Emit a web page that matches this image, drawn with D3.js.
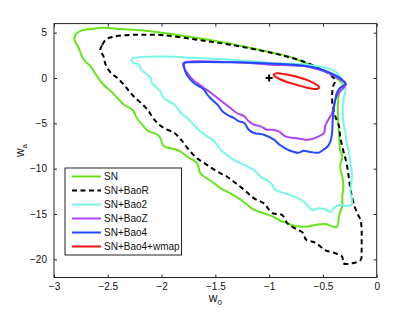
<!DOCTYPE html>
<html>
<head>
<meta charset="utf-8">
<script src="https://cdn.jsdelivr.net/npm/d3@7"></script>
<style>
  body { margin: 0; background: #fff; }
  svg text { font-family: "Liberation Sans", Arial, sans-serif; }
</style>
</head>
<body>
<svg id="chart" width="415" height="313"></svg>
<script>
// contours, [w0, wa]
var contourSN = [[-2.81,4.22],[-2.80,4.78],[-2.74,5.26],[-2.66,5.40],[-2.54,5.55],[-2.38,5.40],[-2.19,5.26],
  [-1.98,4.96],[-1.67,4.41],[-1.36,3.78],[-0.96,2.76],[-0.82,2.39],[-0.66,1.65],[-0.51,0.92],[-0.40,0.19],
  [-0.34,-0.36],[-0.31,-0.74],[-0.34,-1.10],[-0.35,-1.65],[-0.36,-2.76],[-0.36,-4.22],[-0.35,-6.07],
  [-0.34,-7.94],[-0.32,-8.68],[-0.34,-9.78],[-0.32,-10.89],[-0.31,-11.99],[-0.32,-13.09],[-0.32,-14.20],
  [-0.34,-14.75],[-0.35,-15.30],[-0.37,-16.40],[-0.39,-16.47],[-0.48,-16.10],[-0.57,-16.21],[-0.66,-16.40],
  [-0.76,-16.32],[-0.83,-16.03],[-0.91,-15.66],[-0.96,-15.30],[-1.05,-14.92],[-1.14,-14.55],[-1.20,-14.00],
  [-1.26,-13.45],[-1.36,-12.72],[-1.45,-12.17],[-1.51,-11.61],[-1.58,-11.06],[-1.64,-10.51],[-1.65,-10.15],
  [-1.67,-9.41],[-1.76,-8.68],[-1.85,-7.94],[-1.98,-7.49],[-2.02,-6.43],[-2.07,-6.07],[-2.12,-5.88],
  [-2.18,-5.15],[-2.23,-4.41],[-2.27,-3.50],[-2.35,-2.94],[-2.41,-2.21],[-2.47,-1.47],[-2.54,-0.74],
  [-2.60,0.19],[-2.66,1.29],[-2.71,1.84],[-2.74,2.39],[-2.77,3.31]];

var contourBaoR = [[-2.57,3.12],[-2.55,3.67],[-2.52,4.22],[-2.46,4.52],[-2.35,4.71],[-2.19,4.78],[-1.98,4.72],
  [-1.67,4.22],[-1.36,3.67],[-0.97,2.76],[-0.82,2.32],[-0.66,1.73],[-0.54,1.10],[-0.45,0.55],[-0.40,0.00],
  [-0.385,-0.36],[-0.40,-0.74],[-0.41,-1.29],[-0.415,-2.02],[-0.41,-3.12],[-0.385,-4.22],[-0.35,-5.33],
  [-0.34,-6.43],[-0.31,-8.05],[-0.28,-9.41],[-0.26,-10.89],[-0.245,-12.17],[-0.23,-13.09],[-0.21,-14.01],
  [-0.18,-14.92],[-0.15,-15.66],[-0.14,-16.77],[-0.14,-17.87],[-0.14,-18.97],[-0.15,-20.07],[-0.23,-20.44],
  [-0.31,-20.44],[-0.32,-19.71],[-0.385,-19.33],[-0.48,-18.97],[-0.57,-18.16],[-0.66,-17.79],[-0.68,-17.13],
  [-0.76,-16.58],[-0.83,-16.03],[-0.88,-15.11],[-0.97,-14.89],[-1.05,-13.82],[-1.14,-13.27],[-1.23,-12.35],
  [-1.31,-11.61],[-1.39,-10.89],[-1.48,-10.34],[-1.575,-9.60],[-1.67,-8.86],[-1.76,-7.72],[-1.82,-6.80],
  [-1.88,-6.07],[-1.98,-5.51],[-2.04,-4.96],[-2.09,-4.22],[-2.13,-3.49],[-2.19,-2.76],[-2.26,-2.02],
  [-2.30,-1.47],[-2.35,-0.74],[-2.41,0.00],[-2.47,0.55],[-2.52,1.47],[-2.54,2.39]];

var contourBao2 = [[-2.28,2.10],[-2.19,2.32],[-1.98,2.37],[-1.67,2.21],[-1.36,2.02],[-0.97,1.65],[-0.66,1.47],
  [-0.415,0.92],[-0.34,0.19],[-0.31,-0.55],[-0.29,-1.29],[-0.31,-2.39],[-0.316,-3.50],[-0.31,-4.96],
  [-0.29,-6.07],[-0.28,-7.17],[-0.26,-8.05],[-0.245,-9.41],[-0.23,-10.51],[-0.236,-11.61],[-0.245,-12.54],
  [-0.23,-13.46],[-0.236,-14.01],[-0.29,-14.12],[-0.35,-14.01],[-0.40,-14.37],[-0.43,-14.75],[-0.48,-14.48],
  [-0.54,-14.37],[-0.60,-14.56],[-0.62,-14.37],[-0.66,-13.82],[-0.76,-13.09],[-0.85,-12.72],[-0.94,-12.35],
  [-0.97,-11.80],[-1.02,-11.25],[-1.08,-10.89],[-1.14,-10.15],[-1.20,-9.78],[-1.26,-9.41],[-1.33,-9.04],
  [-1.39,-8.49],[-1.45,-7.94],[-1.51,-6.98],[-1.575,-6.43],[-1.64,-5.88],[-1.70,-5.15],[-1.76,-4.41],
  [-1.82,-3.86],[-1.88,-2.94],[-1.98,-2.21],[-2.01,-1.47],[-2.04,-1.10],[-2.09,-0.55],[-2.10,0.00],
  [-2.15,0.55],[-2.19,0.92],[-2.21,1.47],[-2.26,1.65]];

var contourBaoZ = [[-1.80,1.60],[-1.36,1.77],[-0.97,1.47],[-0.82,1.40],[-0.66,1.29],[-0.54,0.92],[-0.415,0.36],
  [-0.34,-0.19],[-0.30,-0.47],[-0.285,-0.74],[-0.31,-1.10],[-0.35,-1.65],[-0.385,-2.39],[-0.40,-3.12],
  [-0.415,-3.86],[-0.45,-4.60],[-0.48,-5.33],[-0.49,-6.07],[-0.54,-6.43],[-0.60,-6.73],[-0.66,-6.80],
  [-0.76,-6.62],[-0.85,-6.43],[-0.91,-5.88],[-0.97,-5.70],[-1.02,-5.70],[-1.08,-5.33],[-1.14,-5.15],
  [-1.19,-4.78],[-1.23,-4.22],[-1.30,-3.86],[-1.36,-3.31],[-1.42,-2.76],[-1.48,-2.21],[-1.54,-1.65],
  [-1.605,-1.10],[-1.67,-0.55],[-1.71,-0.19],[-1.76,0.55],[-1.79,1.10]];

var contourBao4 = [[-1.79,1.65],[-1.73,1.73],[-1.36,1.73],[-0.955,1.58],[-0.66,1.32],[-0.53,0.99],[-0.41,0.44],
  [-0.33,-0.11],[-0.29,-0.61],[-0.34,-1.10],[-0.37,-1.65],[-0.385,-2.39],[-0.40,-3.50],[-0.41,-4.96],
  [-0.415,-6.07],[-0.43,-6.98],[-0.46,-7.61],[-0.50,-7.94],[-0.54,-8.24],[-0.63,-8.13],[-0.68,-8.02],
  [-0.725,-8.24],[-0.82,-7.94],[-0.90,-7.39],[-0.955,-6.80],[-1.05,-6.25],[-1.14,-6.07],[-1.19,-5.70],
  [-1.23,-4.96],[-1.28,-4.78],[-1.33,-4.41],[-1.39,-4.05],[-1.435,-3.67],[-1.48,-2.94],[-1.53,-2.39],
  [-1.575,-1.84],[-1.605,-1.29],[-1.65,-0.92],[-1.70,-0.55],[-1.745,0.00],[-1.78,0.74],[-1.79,1.29]];

var contourWmap = [[-0.957,0.36],[-0.927,0.52],[-0.852,0.41],[-0.759,0.19],[-0.666,-0.14],[-0.592,-0.52],
  [-0.545,-0.85],[-0.536,-1.10],[-0.573,-1.21],[-0.648,-1.07],[-0.741,-0.77],[-0.834,-0.44],[-0.908,-0.08],
  [-0.948,0.19]];

var fiducial = [-1, 0];

var seriesNames = ["SN", "SN+BaoR", "SN+Bao2", "SN+BaoZ", "SN+Bao4", "SN+Bao4+wmap"];
var seriesData = [contourSN, contourBaoR, contourBao2, contourBaoZ, contourBao4, contourWmap];
var seriesColors = ["#66e61a", "#000000", "#77f8e4", "#b044f0", "#2448ff", "#ff1010"];
var seriesDash = [null, "5,3.5", null, null, null, null];

var xTicks = [-3, -2.5, -2, -1.5, -1, -0.5, 0];
var yTicks = [5, 0, -5, -10, -15, -20];

var svg = d3.select("#chart");
var plotLeft = 54, plotRight = 376.7, plotTop = 23.6, plotBottom = 277.5;

var x = d3.scaleLinear().domain([-3, 0]).range([plotLeft, plotRight]);
var y = d3.scaleLinear().domain([-22, 6]).range([plotBottom, plotTop]);

var fmt = function(d) { return d === 0 ? "0" : (d < 0 ? "\u2212" : "") + Math.abs(d); };

svg.append("rect").attr("x", 0).attr("y", 0).attr("width", 415).attr("height", 313).attr("fill", "#fff");

// axes with inward ticks on all sides
function styleAxis(g) {
  g.select(".domain").remove();
  g.selectAll(".tick line").attr("stroke", "#222");
  g.selectAll("text").attr("fill", "#111").style("font-size", "10px");
}
svg.append("g").attr("transform", "translate(0," + plotBottom + ")")
  .call(d3.axisBottom(x).tickValues(xTicks).tickFormat(fmt).tickSize(-3).tickPadding(5))
  .call(styleAxis);
svg.append("g").attr("transform", "translate(0," + plotTop + ")")
  .call(d3.axisTop(x).tickValues(xTicks).tickFormat("").tickSize(-3))
  .call(styleAxis);
svg.append("g").attr("transform", "translate(" + plotLeft + ",0)")
  .call(d3.axisLeft(y).tickValues(yTicks).tickFormat(fmt).tickSize(-3).tickPadding(7))
  .call(styleAxis);
svg.append("g").attr("transform", "translate(" + plotRight + ",0)")
  .call(d3.axisRight(y).tickValues(yTicks).tickFormat("").tickSize(-3))
  .call(styleAxis);

var line = d3.line()
  .x(function(d) { return x(d[0]); })
  .y(function(d) { return y(d[1]); })
  .curve(d3.curveCatmullRomClosed.alpha(0.5));

svg.append("g").selectAll("path")
  .data(seriesData)
  .enter().append("path")
  .attr("d", line)
  .attr("fill", "none")
  .attr("stroke", function(d, i) { return seriesColors[i]; })
  .attr("stroke-width", 2)
  .attr("stroke-dasharray", function(d, i) { return seriesDash[i]; })
  .attr("stroke-linejoin", "round");

// fiducial point
var fx = x(fiducial[0]), fy = y(fiducial[1]);
svg.append("path")
  .attr("d", "M" + (fx - 3.5) + "," + fy + "H" + (fx + 3.5) + "M" + fx + "," + (fy - 3.5) + "V" + (fy + 3.5))
  .attr("stroke", "#000").attr("stroke-width", 2);

// frame
svg.append("rect")
  .attr("x", plotLeft).attr("y", plotTop)
  .attr("width", plotRight - plotLeft).attr("height", plotBottom - plotTop)
  .attr("fill", "none").attr("stroke", "#222").attr("stroke-width", 1);

// legend
var lg = svg.append("g");
lg.append("rect").attr("x", 65).attr("y", 168).attr("width", 116.5).attr("height", 87)
  .attr("fill", "#fff").attr("stroke", "#222").attr("stroke-width", 1);
var rows = lg.selectAll("g.row").data(seriesNames).enter().append("g")
  .attr("transform", function(d, i) { return "translate(0," + (176.5 + i * 14) + ")"; });
rows.append("line").attr("x1", 72).attr("x2", 101).attr("y1", 0).attr("y2", 0)
  .attr("stroke", function(d, i) { return seriesColors[i]; })
  .attr("stroke-width", 2)
  .attr("stroke-dasharray", function(d, i) { return seriesDash[i]; });
rows.append("text").attr("x", 104).attr("y", 0).attr("dy", "0.35em")
  .style("font-size", "10px").attr("fill", "#111").text(function(d) { return d; });

// axis labels, centred on the plot
var xl = svg.append("text").attr("x", (plotLeft + plotRight) / 2).attr("y", 302)
  .attr("text-anchor", "middle").style("font-size", "12px").attr("fill", "#111");
xl.append("tspan").text("w");
xl.append("tspan").attr("dy", 3).style("font-size", "8px").text("0");

var yl = svg.append("text").attr("transform", "translate(24," + (plotTop + plotBottom) / 2 + ") rotate(-90)")
  .attr("text-anchor", "middle").style("font-size", "12px").attr("fill", "#111");
yl.append("tspan").text("w");
yl.append("tspan").attr("dy", 3).style("font-size", "8px").text("a");
</script>
</body>
</html>
